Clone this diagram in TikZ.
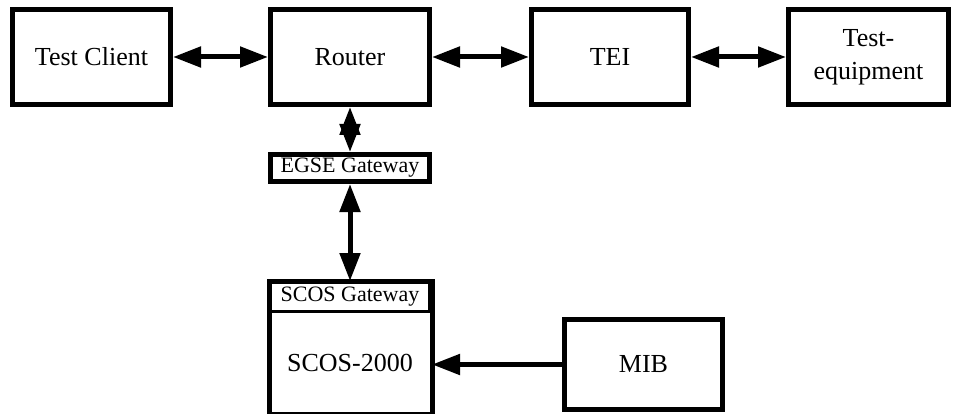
\documentclass[tikz,border=0pt]{standalone}
\usepackage{fontspec}
\setmainfont{Liberation Serif}
\usepackage{tikz}
\usetikzlibrary{arrows.meta,positioning}

\begin{document}
\begin{tikzpicture}[
    x=1pt, y=-1pt,
    box/.style={draw, line width=5pt, minimum width=158pt, minimum height=95pt, inner sep=0pt, align=center, font=\fontsize{26}{33}\selectfont},
    gw/.style={draw, line width=5pt, minimum width=159pt, minimum height=27pt, inner sep=0pt, font=\fontsize{22}{24}\selectfont},
    arr/.style={{Triangle[length=28pt,width=20pt]}-{Triangle[length=28pt,width=20pt]}, line width=5pt},
    onearr/.style={-{Triangle[length=28pt,width=20pt]}, line width=5pt}
]
\useasboundingbox (0,0) rectangle (955,414);

\node[box] (client) at (91.5,57) {Test Client};
\node[box, minimum width=159pt] (router) at (350,57) {Router};
\node[box, minimum width=157pt] (tei) at (610,57) {TEI};
\node[box, minimum width=160pt] (equip) at (868.5,57) {Test-\\equipment};
\node[gw] (egse) at (350,168) {EGSE Gateway};

% SCOS block: gateway strip on top of the main box
\node[gw, line width=3pt, minimum height=29pt] (scosgw) at (350,297) {SCOS Gateway};
\node[box, draw=none, minimum width=159pt, minimum height=99pt] (scos) at (350,362.5) {SCOS-2000};
\draw[line width=5pt] (scosgw.north west) rectangle (scos.south east);

\node[box, minimum height=90pt] (mib) at (643.5,364.5) {MIB};

\draw[arr] (client) -- (router);
\draw[arr] (router) -- (tei);
\draw[arr] (tei) -- (equip);
\draw[arr] (router) -- (egse);
\draw[arr] (egse) -- (scosgw);
\draw[onearr] (mib.west) -- (mib.west -| scos.east);
\end{tikzpicture}
\end{document}
